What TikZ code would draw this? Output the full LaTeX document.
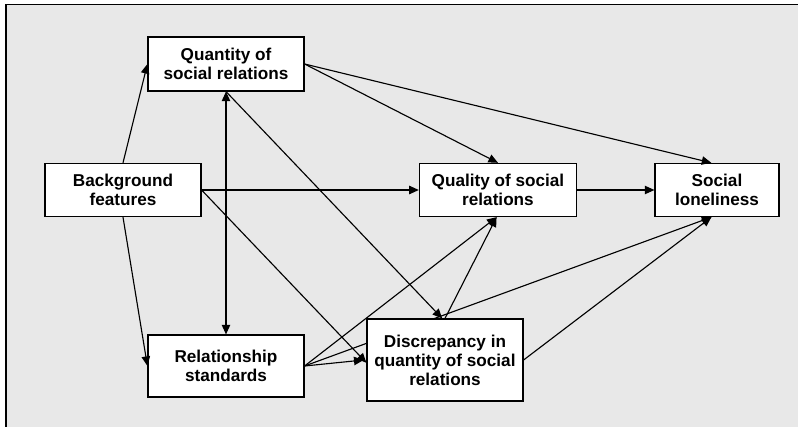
\documentclass[tikz,border=0pt]{standalone}
\usepackage{fontspec}
\setmainfont{Liberation Sans}
\usetikzlibrary{arrows.meta}

\pgfdeclarelayer{back}
\pgfdeclarelayer{behind}
\pgfsetlayers{back,behind,main}

\definecolor{panel}{HTML}{E8E8E8}

\tikzset{
  >={Triangle[length=2.4mm,width=2.1mm]},
  box/.style={draw, fill=white, line width=0.8pt, align=center,
    inner sep=0pt, minimum width=3.9cm, minimum height=1.33cm,
    font=\fontsize{12.2}{13.5}\selectfont\bfseries},
  path/.style={line width=0.8pt, ->},
}

\begin{document}
\begin{tikzpicture}[x=0.025cm, y=-0.025cm]
\useasboundingbox (0,0) rectangle (798,427);

\begin{pgfonlayer}{back}
\fill[panel] (6,4.5) rectangle (798,427);
\draw[line width=0.9pt] (6,427) -- (6,4.5) -- (798,4.5);
\end{pgfonlayer}

\node[box] (bg) at (123,190) {Background\\features};
\node[box, minimum height=1.35cm] (qty) at (226,64) {Quantity of\\social relations};
\node[box, minimum height=1.55cm] (std) at (226,366) {Relationship\\standards};
\node[box, minimum width=3.93cm] (qual) at (498,190) {Quality of social\\relations};
\node[box, minimum width=3.1cm] (lone) at (717,190) {Social\\loneliness};
\node[box, minimum height=2.05cm] (disc) at (445,360) {Discrepancy in\\quantity of social\\relations};

% paths from background features
\draw[path] (bg.north) -- (qty.west);
\draw[path] (bg.south) -- (std.west);
\draw[path] (bg.east) -- (qual.west);
\draw[path] (bg.east) -- ([yshift=-2]disc.west);

% quantity of relations
\draw[path, <->] (qty.south) -- (std.north);
\draw[path] (qty.south) -- ([xshift=-2]disc.north);
\draw[path] (qty.east) -- (qual.north);
\draw[path] (qty.east) -- ([xshift=-4]lone.north);

% standards
\draw[path] (std.east) -- ([xshift=-1]qual.south);
\draw[path] (std.east) -- ([xshift=-2]disc.west);
\begin{pgfonlayer}{behind}
\draw[path] (std.east) -- ([xshift=-4]lone.south);
\end{pgfonlayer}

% discrepancy and quality
\draw[path] (disc.north) -- ([xshift=-1]qual.south);
\draw[path] (disc.east) -- ([xshift=-4]lone.south);
\draw[path] (qual.east) -- (lone.west);
\end{tikzpicture}
\end{document}
